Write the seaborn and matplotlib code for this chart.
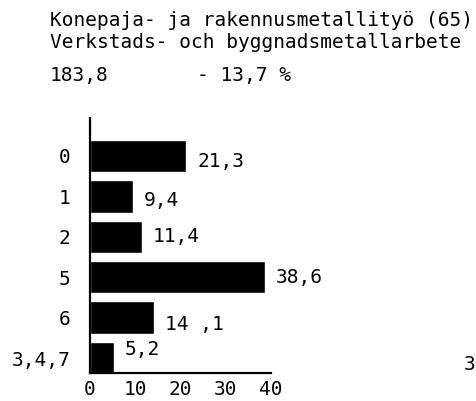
import matplotlib

matplotlib.use("Agg")
import matplotlib.pyplot as plt
import pandas as pd
import seaborn as sns

title_fi = "Konepaja- ja rakennusmetallityö (65)"
title_sv = "Verkstads- och byggnadsmetallarbete"
total_text = "183,8"
change_text = "- 13,7 %"
groups = ["0", "1", "2", "5", "6", "3,4,7"]
shares = [21.3, 9.4, 11.4, 38.6, 14.1, 5.2]
share_labels = ["21,3", "9,4", "11,4", "38,6", "14 ,1", "5,2"]
x_ticks = [0, 10, 20, 30, 40]

# typewriter-ish vertical shifts of the value labels (points)
label_dy = [-4, -3, 0, 0, -5, 6]

sns.set_style("white")
plt.rcParams["font.family"] = ["DejaVu Sans Mono", "DejaVu Sans"]
plt.rcParams["text.color"] = "black"
plt.rcParams["xtick.color"] = "black"
plt.rcParams["ytick.color"] = "black"
plt.rcParams["axes.edgecolor"] = "black"

FS = 14

df = pd.DataFrame({"group": groups, "share": shares})

fig = plt.figure(figsize=(4.77, 4.01), dpi=100)
ax = fig.add_axes([90 / 477, 1 - 373 / 401, 181 / 477, 255 / 401])

sns.barplot(data=df, y="group", x="share", color="black", width=0.8,
            orient="h", ax=ax, saturation=1)

ax.set_xlim(0, 40)
ax.set_ylim(5.37, -0.94)
ax.set_xticks(x_ticks)
ax.set_xticklabels([str(t) for t in x_ticks])
ax.set_xlabel("")
ax.set_ylabel("")
sns.despine(ax=ax, top=True, right=True)
ax.spines["left"].set_linewidth(1.6)
ax.spines["bottom"].set_linewidth(1.6)
ax.spines["bottom"].set_bounds(0, 40)
ax.tick_params(axis="x", direction="in", length=3, width=1.6, pad=5,
               labelsize=FS)
ax.tick_params(axis="y", length=0, pad=14, labelsize=FS)

for i, (v, lab) in enumerate(zip(shares, share_labels)):
    ax.annotate(lab, xy=(v, i), xytext=(8, label_dy[i]),
                textcoords="offset points", ha="left", va="center",
                fontsize=FS, annotation_clip=False)

fig.text(50 / 477, 1 - 21 / 401, title_fi, ha="left", va="center", fontsize=FS)
fig.text(50 / 477, 1 - 42 / 401, title_sv, ha="left", va="center", fontsize=FS)
fig.text(50 / 477, 1 - 76 / 401, total_text, ha="left", va="center", fontsize=FS)
fig.text(197 / 477, 1 - 76 / 401, change_text, ha="left", va="center", fontsize=FS)
fig.text(464 / 477, 1 - 364 / 401, "3", ha="left", va="center", fontsize=FS)

fig.savefig("out.png", dpi=100)
plt.close(fig)
